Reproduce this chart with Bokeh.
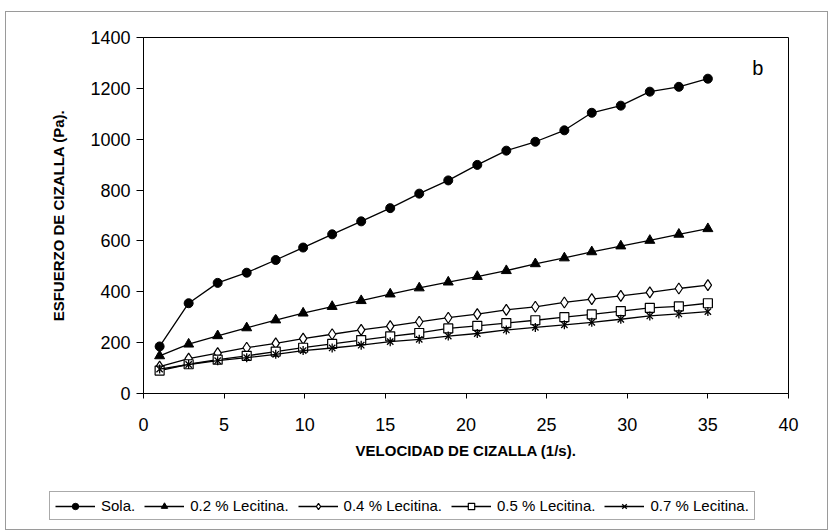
import math
from bokeh.plotting import figure
from bokeh.layouts import column
from bokeh.models import Range1d, FixedTicker, Legend, LegendItem, Label
from bokeh.embed import file_html
from bokeh.resources import INLINE

# ---- data ----
shear_rate = [1.0, 2.8, 4.6, 6.4, 8.2, 9.9, 11.7, 13.5, 15.3, 17.1,
              18.9, 20.7, 22.5, 24.3, 26.1, 27.8, 29.6, 31.4, 33.2, 35.0]
sola = [185, 355, 435, 475, 525, 574, 626, 677, 729, 786,
        838, 899, 955, 990, 1035, 1104, 1132, 1187, 1206, 1238]
lec_02 = [148, 194, 227, 258, 289, 316, 342, 365, 391, 415,
          438, 460, 483, 510, 533, 557, 580, 602, 626, 648]
lec_04 = [106, 137, 159, 180, 197, 216, 233, 250, 265, 282,
          298, 312, 329, 341, 358, 371, 384, 398, 413, 426]
lec_05 = [90, 115, 133, 148, 165, 180, 195, 210, 225, 238,
          256, 266, 277, 288, 300, 311, 324, 337, 343, 355]
lec_07 = [96, 114, 129, 141, 154, 169, 179, 190, 204, 213,
          226, 236, 250, 260, 270, 280, 292, 305, 313, 322]

labels = ["Sola.", "0.2 % Lecitina.", "0.4 % Lecitina.", "0.5 % Lecitina.", "0.7 % Lecitina."]
x_ticks = [0, 5, 10, 15, 20, 25, 30, 35, 40]
y_ticks = [0, 200, 400, 600, 800, 1000, 1200, 1400]
x_title = "VELOCIDAD DE CIZALLA (1/s)."
y_title = "ESFUERZO DE CIZALLA (Pa)."
panel_tag = "b"

FONT = "Liberation Sans"
LW = 1.3

# marker styles per series (style only)
styles = [
    dict(marker="circle", size=9, fill_color="black", line_color="black"),
    dict(marker="triangle", size=10, fill_color="black", line_color="black"),
    dict(marker="diamond", size=11, fill_color="white", line_color="black", line_width=1.2),
    dict(marker="square", size=9, fill_color="white", line_color="black", line_width=1.2),
]
series = [sola, lec_02, lec_04, lec_05]


def draw_series(fig):
    """Draw all five series on fig; return the renderer groups for a legend."""
    groups = []
    for ys, st in zip(series, styles):
        rl = fig.line(shear_rate, ys, line_color="black", line_width=LW)
        rm = fig.scatter(shear_rate, ys, **st)
        groups.append([rl, rm])
    rl = fig.line(shear_rate, lec_07, line_color="black", line_width=LW)
    rx = fig.scatter(shear_rate, lec_07, marker="x", size=9, line_color="black", line_width=1.3)
    rd = fig.scatter(shear_rate, lec_07, marker="dash", size=9, angle=math.pi / 2,
                     line_color="black", line_width=1.3)
    groups.append([rl, rx, rd])
    return groups


# ---------------- main chart ----------------
p = figure(width=821, height=470, output_backend="svg", toolbar_location=None,
           x_range=Range1d(0, 40), y_range=Range1d(0, 1400),
           min_border_left=137, min_border_right=39, min_border_top=25, min_border_bottom=89,
           background_fill_color="white", border_fill_color="white")
p.frame_align = False

p.outline_line_color = "black"
p.outline_line_width = 1
p.xgrid.visible = False
p.ygrid.visible = False

for ax in (p.xaxis[0], p.yaxis[0]):
    ax.axis_line_color = "black"
    ax.major_tick_line_color = "black"
    ax.minor_tick_line_color = None
    ax.major_tick_in = 0
    ax.major_label_text_font = FONT
    ax.major_label_text_font_size = "18px"
    ax.major_label_text_color = "#000000"
    ax.axis_label_text_font = FONT
    ax.axis_label_text_font_style = "bold"
    ax.axis_label_text_font_size = "15px"
    ax.axis_label_text_color = "#000000"

p.xaxis.ticker = FixedTicker(ticks=x_ticks)
p.yaxis.ticker = FixedTicker(ticks=y_ticks)
p.xaxis.major_tick_out = 5
p.yaxis.major_tick_out = 7
p.xaxis.major_label_standoff = 19
p.yaxis.major_label_standoff = 6
p.xaxis.axis_label = x_title
p.yaxis.axis_label = y_title
p.xaxis.axis_label_standoff = 8
p.yaxis.axis_label_standoff = 20

draw_series(p)

tag = Label(x=38.1, y=1282, text=panel_tag, text_font=FONT, text_font_size="20px",
            text_align="center", text_baseline="middle", text_color="black")
p.add_layout(tag)

# ---------------- legend strip (same series, view placed away from the data) ----------------
q = figure(width=821, height=47, output_backend="svg", toolbar_location=None,
           x_axis_type=None, y_axis_type=None,
           x_range=Range1d(100, 101), y_range=Range1d(5000, 5001),
           min_border=0, min_border_left=0, min_border_right=0, min_border_top=0, min_border_bottom=0,
           background_fill_color="white", border_fill_color="white")
q.frame_align = False
q.outline_line_color = None
q.grid.visible = False

groups = draw_series(q)
items = [LegendItem(label=lab, renderers=g) for lab, g in zip(labels, groups)]

legend = Legend(items=items, orientation="horizontal", location=(43, 9),
                glyph_width=40, glyph_height=16, label_standoff=6, spacing=9,
                padding=5, margin=0,
                label_text_font=FONT, label_text_font_size="15px", label_text_color="black",
                border_line_color="#555555", border_line_width=1,
                background_fill_color="white", background_fill_alpha=1.0)
q.add_layout(legend, "center")

layout = column(p, q, spacing=0)
layout.margin = (11, 0, 0, 5)
layout.styles = {"border": "1px solid #9a9a9a"}

open("out.html", "w").write(file_html(layout, INLINE))
